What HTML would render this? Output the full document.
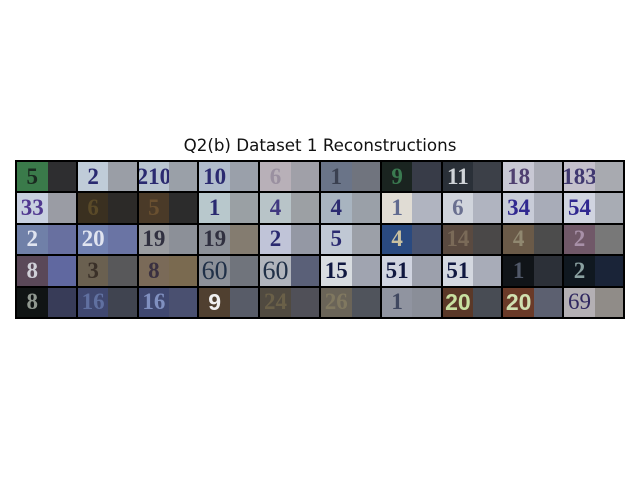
<!DOCTYPE html>
<html><head><meta charset="utf-8"><style>
html,body{margin:0;padding:0;background:#fff;width:640px;height:480px;overflow:hidden;font-family:"DejaVu Sans","Liberation Sans",sans-serif}
.t{position:absolute;top:135px;left:0;width:640px;text-align:center;font-size:16.7px;color:#111}
.g{position:absolute;left:15px;top:160px;width:606px;height:155px;background:#000;padding:2px;display:grid;grid-template-columns:repeat(10,1fr);grid-template-rows:repeat(5,1fr);gap:2px}
.c{display:flex;overflow:hidden}
.a{width:52%;display:flex;align-items:center;justify-content:center;font-family:"Liberation Serif",serif;font-size:23px;font-weight:bold;color:#2a2a70;overflow:hidden;white-space:nowrap}
.b{flex:1}
</style></head><body>
<div class="t">Q2(b) Dataset 1 Reconstructions</div>
<div class="g">
<div class="c"><div class="a" style="background:#3a7a4a;color:#1a2a20">5</div><div class="b" style="background:#2e2e30"></div></div>
<div class="c"><div class="a" style="background:#c0ccd8">2</div><div class="b" style="background:#9a9ea6"></div></div>
<div class="c"><div class="a" style="background:#b8c4d0">210</div><div class="b" style="background:#9aa0a8"></div></div>
<div class="c"><div class="a" style="background:#b0bccc">10</div><div class="b" style="background:#9aa0aa"></div></div>
<div class="c"><div class="a" style="background:#b8b0b8;color:#9a90a0">6</div><div class="b" style="background:#a0a0a8"></div></div>
<div class="c"><div class="a" style="background:#6a7488;color:#3a4050">1</div><div class="b" style="background:#70747e"></div></div>
<div class="c"><div class="a" style="background:#1a2420;color:#3a7a50">9</div><div class="b" style="background:#383c48"></div></div>
<div class="c"><div class="a" style="background:#2a3038;color:#d0d4d8">11</div><div class="b" style="background:#3c4048"></div></div>
<div class="c"><div class="a" style="background:#c8c8d4;color:#504070">18</div><div class="b" style="background:#a8aab4"></div></div>
<div class="c"><div class="a" style="background:#c4c0cc;color:#403870">183</div><div class="b" style="background:#a8aab0"></div></div>

<div class="c"><div class="a" style="background:#c8d0e0;color:#503890">33</div><div class="b" style="background:#9a9ca4"></div></div>
<div class="c"><div class="a" style="background:#3a3020;color:#5a4a28">6</div><div class="b" style="background:#2c2a28"></div></div>
<div class="c"><div class="a" style="background:#4a3a28;color:#6a5030">5</div><div class="b" style="background:#2c2c2c"></div></div>
<div class="c"><div class="a" style="background:#b8c8cc">1</div><div class="b" style="background:#9aa0a4"></div></div>
<div class="c"><div class="a" style="background:#b8c4c8;color:#403880">4</div><div class="b" style="background:#9ca0a4"></div></div>
<div class="c"><div class="a" style="background:#a8b4c0">4</div><div class="b" style="background:#9aa0a8"></div></div>
<div class="c"><div class="a" style="background:#e0dcd4;color:#606a90">1</div><div class="b" style="background:#b0b4c0"></div></div>
<div class="c"><div class="a" style="background:#d0d4dc;color:#6a7090">6</div><div class="b" style="background:#b0b4c0"></div></div>
<div class="c"><div class="a" style="background:#c8ccd8;color:#302890">34</div><div class="b" style="background:#a8acb8"></div></div>
<div class="c"><div class="a" style="background:#d0d4e0;color:#302890">54</div><div class="b" style="background:#a8acb4"></div></div>

<div class="c"><div class="a" style="background:#7080a8;color:#e0e4f0">2</div><div class="b" style="background:#6870a0"></div></div>
<div class="c"><div class="a" style="background:#7080b0;color:#e0e4f0">20</div><div class="b" style="background:#6a74a4"></div></div>
<div class="c"><div class="a" style="background:#9a9ca0;color:#303040">19</div><div class="b" style="background:#8c9098"></div></div>
<div class="c"><div class="a" style="background:#8c9098;color:#303040">19</div><div class="b" style="background:#847c70"></div></div>
<div class="c"><div class="a" style="background:#c0c4d8">2</div><div class="b" style="background:#9498a4"></div></div>
<div class="c"><div class="a" style="background:#c0c8d4">5</div><div class="b" style="background:#9ca0a8"></div></div>
<div class="c"><div class="a" style="background:#2a4a80;color:#c8c0a0">4</div><div class="b" style="background:#4a5470"></div></div>
<div class="c"><div class="a" style="background:#5a4a40;color:#7a6a58">14</div><div class="b" style="background:#4a4848"></div></div>
<div class="c"><div class="a" style="background:#6a5a48;color:#908870">4</div><div class="b" style="background:#4c4c4c"></div></div>
<div class="c"><div class="a" style="background:#705868;color:#a890a8">2</div><div class="b" style="background:#787878"></div></div>

<div class="c"><div class="a" style="background:#5a4858;color:#d0d0d8">8</div><div class="b" style="background:#6068a0"></div></div>
<div class="c"><div class="a" style="background:#6a6050;color:#3a3028">3</div><div class="b" style="background:#58585a"></div></div>
<div class="c"><div class="a" style="background:#7a6a58;color:#3a3040">8</div><div class="b" style="background:#7a6a50"></div></div>
<div class="c"><div class="a" style="background:#8c9098;color:#203048;font-size:26px;font-weight:normal">60</div><div class="b" style="background:#70747c"></div></div>
<div class="c"><div class="a" style="background:#b0b4bc;color:#203048;font-size:26px;font-weight:normal">60</div><div class="b" style="background:#5a6078"></div></div>
<div class="c"><div class="a" style="background:#d8dce0;color:#101840">15</div><div class="b" style="background:#a0a4b0"></div></div>
<div class="c"><div class="a" style="background:#d0d4e0;color:#101840">51</div><div class="b" style="background:#9ca0ac"></div></div>
<div class="c"><div class="a" style="background:#d4d8e0;color:#101840">51</div><div class="b" style="background:#a8acb8"></div></div>
<div class="c"><div class="a" style="background:#101418;color:#505868">1</div><div class="b" style="background:#2c3038"></div></div>
<div class="c"><div class="a" style="background:#101820;color:#8aa0a0">2</div><div class="b" style="background:#1a2438"></div></div>

<div class="c"><div class="a" style="background:#101414;color:#909890">8</div><div class="b" style="background:#383c58"></div></div>
<div class="c"><div class="a" style="background:#404870;color:#6070a0">16</div><div class="b" style="background:#404450"></div></div>
<div class="c"><div class="a" style="background:#404870;color:#8090c0">16</div><div class="b" style="background:#4a5070"></div></div>
<div class="c"><div class="a" style="background:#504030;color:#f0f0f0;font-family:'Liberation Sans',sans-serif">9</div><div class="b" style="background:#585c68"></div></div>
<div class="c"><div class="a" style="background:#504a40;color:#6a6048">24</div><div class="b" style="background:#505058"></div></div>
<div class="c"><div class="a" style="background:#6a6458;color:#807860">26</div><div class="b" style="background:#50545c"></div></div>
<div class="c"><div class="a" style="background:#9094a0;color:#404860">1</div><div class="b" style="background:#8a8e98"></div></div>
<div class="c"><div class="a" style="background:#5a3828;color:#c8e0a0;font-family:'Liberation Sans',sans-serif">20</div><div class="b" style="background:#484c54"></div></div>
<div class="c"><div class="a" style="background:#6a3a28;color:#d0e0b0;font-family:'Liberation Sans',sans-serif">20</div><div class="b" style="background:#5c6070"></div></div>
<div class="c"><div class="a" style="background:#b4b0b4;color:#302860;font-weight:normal">69</div><div class="b" style="background:#908c88"></div></div>
</div>
</body></html>
